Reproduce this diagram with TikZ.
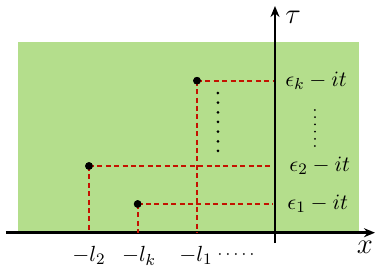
\documentclass[tikz,border=0pt]{standalone}
\usepackage{amsmath}
\usepackage{amssymb}
\usetikzlibrary{
  arrows.meta,
  positioning,
  calc
}
\definecolor{mGreen}{RGB}{180,222,140}
\definecolor{mRed}{RGB}{196,18,0}
\tikzset{
  axisline/.style={
    -{Stealth[length=5.5pt,width=4.5pt]},
    line width=1.3pt,
    black
  },
  levelline/.style={
    dash pattern=on 2.5pt off 1.7pt,
    line width=1.15pt,
    mRed
  },
  poledot/.style={
    circle,
    fill=black,
    minimum size=3.8pt,
    inner sep=0pt
  },
  axislabel/.style={font=\fontsize{14}{16}\selectfont},
  levellabel/.style={anchor=west, inner sep=0pt, font=\fontsize{11}{13}\selectfont},
  footlabel/.style={anchor=base, inner sep=0pt, font=\fontsize{11}{13}\selectfont}
}

\begin{document}
\begin{tikzpicture}[x=10pt, y=10pt]
  \useasboundingbox (-13.75,-1.865) rectangle (5.35,11.635);
  % Region
  \fill[mGreen] (-12.85,0) rectangle (4.215,9.55);

  % Axes
  \coordinate (xs) at (-13.45,0);
  \coordinate (xe) at (5.0,0);
  \coordinate (ts) at (0,-0.515);
  \coordinate (te) at (0,11.335);
  \draw[axisline] (xs) -- (xe);
  \draw[axisline] (ts) -- (te);
  \node[axislabel] (tau) at (0.9,10.75) {$\tau$};
  \node[axislabel] (xlab) at (4.5,-0.75) {$x$};

  % Points and their levels
  \node[poledot] (pk) at (-3.9,7.6) {};
  \node[poledot] (p2) at (-9.3,3.335) {};
  \node[poledot] (p1) at (-6.865,1.435) {};
  \coordinate (fk) at (-3.9,0);
  \coordinate (f2) at (-9.3,0);
  \coordinate (f1) at (-6.865,0);
  \coordinate (ek) at (-0.1,7.6);
  \coordinate (e2) at (-0.1,3.335);
  \coordinate (e1) at (-0.1,1.435);
  \foreach \n in {k,2,1} {
    \draw[levelline] (p\n.center) -- (e\n);
    \draw[levelline] (p\n.center) -- (f\n);
  }
  \node[poledot] at (pk) {};
  \node[poledot] at (p2) {};
  \node[poledot] at (p1) {};

  \node[levellabel] (lk) at (0.5,7.6) {$\epsilon_k - it$};
  \node[levellabel] (l2) at (0.7,3.335) {$\epsilon_2 - it$};
  \node[levellabel] (l1) at (0.6,1.435) {$\epsilon_1 - it$};

  \node[footlabel] (ml2) at (-9.3,-1.45) {$-l_2$};
  \node[footlabel] (mlk) at (-6.8,-1.45) {$-l_k$};
  \node[footlabel] (ml1) at (-3.95,-1.45) {$-l_1$};

  % Dots
  \foreach \i in {0,...,6}
    \fill (-2.85,{6.985-0.483*\i}) circle (0.075);
  \foreach \i in {0,...,5}
    \fill (2.0,{6.135-0.36*\i}) circle (0.05);
  \foreach \i in {0,...,4}
    \fill ({-2.75+0.4*\i},-1.065) circle (0.05);
\end{tikzpicture}
\end{document}
